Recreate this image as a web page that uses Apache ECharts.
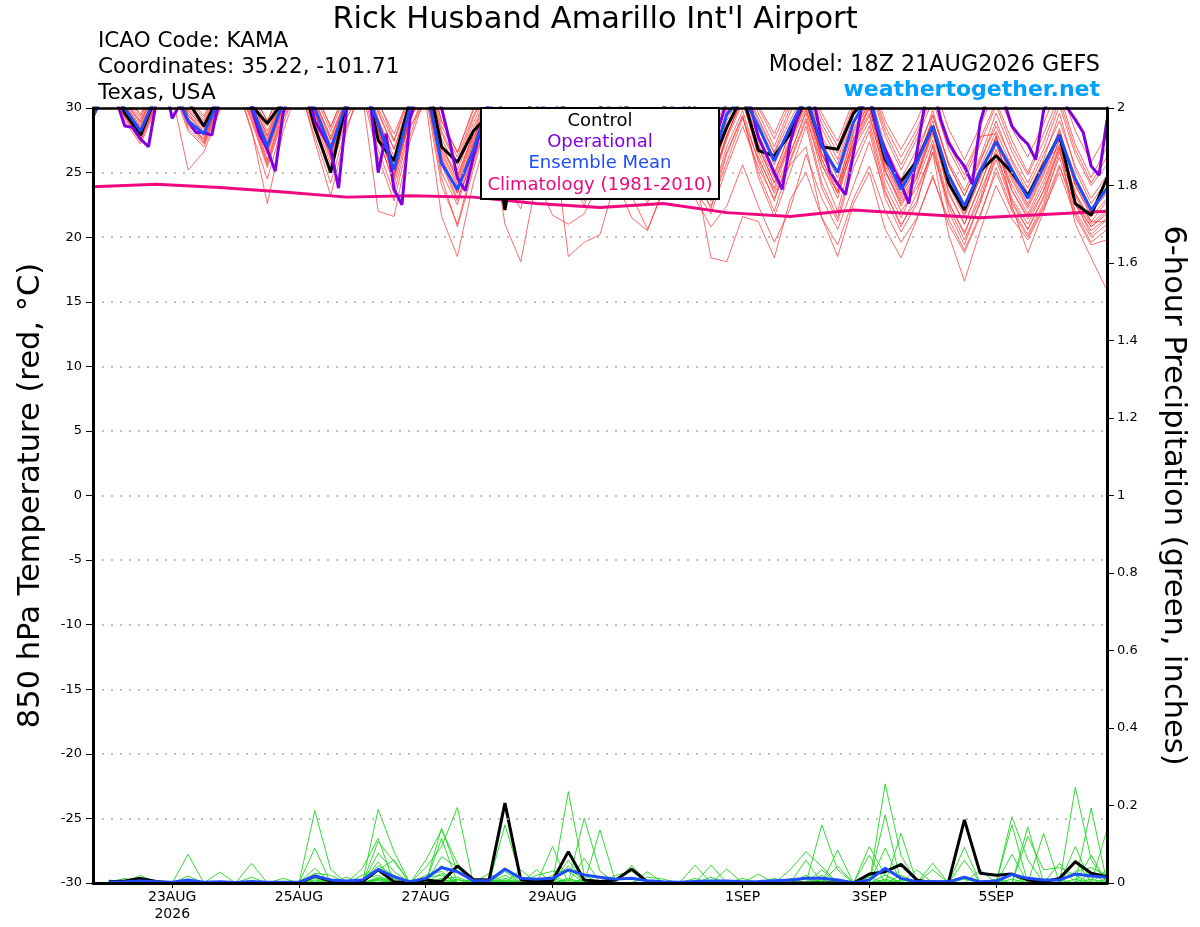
<!DOCTYPE html>
<html><head><meta charset="utf-8">
<script src="https://cdn.jsdelivr.net/npm/echarts@6/dist/echarts.min.js"></script>
<style>html,body{margin:0;padding:0;background:#fff}#c{width:1200px;height:927px}</style>
</head><body><div id="c"></div>
<script>
// ---- time axis: hours after 18Z 21AUG2026 ----
const tickHours = [30, 78, 126, 174, 246, 294, 342];
const tickLabels = ['23AUG\n2026', '25AUG', '27AUG', '29AUG', '1SEP', '3SEP', '5SEP'];

// ---- 850 hPa temperature (6-hourly, idx 0 = 18Z 21AUG) ----
const controlTemp = [31, 33,29.6,27.9,31, 33,30.5,28.6,31, 33,30.2,28.8,30.5, 33,28.5,25.0,30.5,
  33,27.5,25.9,30.5, 33,27.0,25.8,28.2, 29.5,22.1,29.0,31, 32,29,27,30, 32,29,26.5,30,
  32,29,25.5,28.5, 31,26.7,26.3,28.0, 30.8,27.0,26.8,29.6, 30.8,26.0,24.3,25.9,
  28.6,24.2,22.1,25.1, 26.3,25.0,23.2,25.6, 27.9,22.6,21.7,24.6];
const meanTemp = [29.3, 32,30.0,28.2,31, 32,29.0,28.0,30.8, 32,30.2,27.0,30.5, 32,30,26.8,30.4,
  32,28.8,25.2,30, 32,25.7,23.7,26.7, 30.5,27.5,26.5,29.5, 31,28,26.5,29, 31,28,26,29,
  31,28,25.5,29.5, 31,28.6,25.9,28.5, 31,27.0,25.0,28.9, 31,26.3,23.7,25.8,
  28.6,24.8,22.4,25.1, 27.4,25.2,23.0,25.5, 27.9,24.5,22.1,23.8];
// operational run is 3-hourly
const operationalTemp = [
  29.5,31.5,32,30.5,28.6,28.5,27.6,27.0,
  30.5,32,29.2,30.3,29.0,28.1,28.1,27.9,
  30.8,32,32.5,31.5,30.1,28.0,26.8,25.1,
  29.6,31.5,32.5,31.5,29.0,27.9,26.8,23.8,
  29.8,31.5,32.5,30.5,25.0,28.0,23.7,22.5,
  29.1,31.5,32.5,31.5,30.0,27.5,24.6,23.6,
  26.2,28.4,30.5,31,29,27.5,26.5,27.5,
  30,31.5,32,31,29,27.5,26.5,27.5,
  30,31.5,32,31,29,27.5,26.5,27.5,
  30,31.5,32,31.5,30,28,26.5,28.5,
  30.5,31.5,32,30.2,27.7,26.4,25.0,23.7,
  27.3,29.5,31.5,30.5,27.5,25.1,24.1,23.3,
  26.5,30.0,30.8,28.3,26.8,25.4,24.1,22.6,
  26.6,30.3,32,29.1,27.3,26.3,25.5,24.1,
  28.9,31,31.5,30.5,28.6,27.8,27.2,26.0,
  29.8,31,31.5,30.0,29.1,28.1,25.5,24.8,
  29.1];
// climatology, daily at 18Z
const climTemp = [23.9,24.1,23.85,23.5,23.1,23.2,23.1,22.6,22.3,22.6,21.9,21.6,22.1,21.8,21.5,21.75,22.0];

const memberTemp = [
 [30.2, 32.5,30.2,28.6,31.2, 32.8,29.8,28.4,31.0, 33.0,30.6,27.8,30.8, 33.2,30.4,27.5,30.6, 32.8,29.2,26.2,30.2, 32.5,27.0,24.8,28.0, 31.5,28.4,26.8,30.2, 32.0,28.8,27.0,29.6, 31.8,28.5,26.4,29.4, 31.6,28.6,26.0,29.8, 31.8,29.0,26.5,29.0, 31.5,27.8,25.6,29.4, 31.4,27.0,24.5,26.8, 29.5,25.6,23.2,26.0, 28.6,26.0,23.8,26.4, 29.0,25.5,23.0,24.8],
 [29.5, 32.0,29.6,27.8,30.6, 32.2,28.6,27.6,30.4, 32.4,29.8,26.4,30.0, 32.6,29.5,26.0,29.8, 32.0,27.5,24.4,29.2, 31.6,25.0,22.5,26.5, 30.2,26.0,24.5,28.6, 30.8,26.4,24.0,27.8, 30.5,26.0,23.5,27.6, 30.0,25.5,23.0,27.0, 29.8,25.8,22.8,26.5, 29.6,25.0,22.0,26.8, 29.0,24.0,21.5,24.2, 27.5,22.8,20.2,23.5, 26.5,23.0,21.0,23.6, 26.8,22.5,20.5,21.5],
 [30.8, 33.0,30.5,28.9,31.5, 33.2,30.2,28.8,31.4, 32.0,28.4,22.6,28.2, 31.8,28.2,25.2,29.6, 32.4,28.6,25.5,29.8, 32.8,28.2,25.8,29.2, 32.0,29.0,27.2,30.5, 32.4,29.5,27.8,30.2, 32.2,29.0,27.0,30.0, 32.0,29.2,26.8,30.2, 32.2,29.6,27.0,30.0, 32.0,28.8,26.5,30.0, 32.0,28.2,25.6,28.0, 31.0,27.2,24.8,27.6, 30.5,27.5,25.0,28.0, 31.0,27.2,24.6,27.0],
 [29.2, 31.8,29.2,27.4,30.2, 31.0,25.2,26.6,29.8, 32.2,29.6,26.0,29.8, 32.4,29.8,27.0,30.2, 32.6,29.0,25.8,30.0, 32.2,26.2,23.6,27.4, 31.0,27.6,25.6,29.2, 31.4,27.8,25.8,28.8, 31.2,27.2,25.0,28.6, 31.0,27.0,24.6,28.4, 31.2,28.0,25.0,28.0, 30.8,26.5,24.0,28.2, 30.4,25.5,23.0,25.0, 28.5,24.0,21.6,24.6, 27.8,24.6,22.4,25.0, 28.2,24.0,21.8,23.6],
 [30.5, 32.8,30.0,28.2,31.0, 32.6,29.4,28.0,30.8, 32.8,30.0,27.0,30.4, 32.8,29.8,26.6,30.0, 31.0,22.0,21.6,27.4, 31.0,24.0,21.0,25.6, 29.8,25.4,23.6,28.0, 30.2,25.6,23.2,27.2, 30.0,25.2,22.6,26.8, 29.6,24.8,22.2,26.4, 29.4,25.0,22.0,25.8, 29.0,24.2,21.5,26.0, 28.6,23.6,20.8,23.4, 27.0,22.0,19.4,22.8, 26.0,22.6,20.6,23.0, 26.2,22.0,20.0,21.0],
 [29.8, 32.2,29.8,28.0,30.8, 32.4,29.0,27.8,30.6, 32.6,29.6,26.6,30.2, 32.8,29.6,26.2,30.0, 32.2,27.8,24.0,28.6, 30.4,21.6,18.5,24.2, 28.4,24.0,22.2,27.0, 29.6,25.0,22.8,27.0, 30.2,26.0,23.8,27.8, 30.6,26.6,24.0,28.0, 30.6,27.0,24.2,27.4, 30.4,26.0,23.6,27.6, 30.0,25.2,22.4,24.6, 28.0,23.6,21.0,24.0, 27.2,24.0,21.8,24.4, 27.6,23.4,21.2,22.8],
 [30.0, 32.4,30.0,28.4,31.0, 32.6,29.6,28.2,30.8, 32.8,30.2,27.4,30.6, 33.0,30.0,26.8,30.2, 32.4,28.4,25.0,29.4, 31.8,25.8,23.0,26.0, 29.0,21.0,18.1,24.5, 29.5,24.8,22.4,26.6, 30.0,25.6,23.2,27.2, 30.4,26.4,24.0,27.8, 30.8,27.2,24.6,27.6, 30.6,26.4,24.0,28.0, 30.4,25.8,23.2,25.4, 28.6,24.4,22.0,24.8, 27.8,24.8,22.6,25.2, 28.4,24.2,22.0,23.4],
 [30.4, 32.6,30.4,28.8,31.4, 33.0,30.0,28.6,31.2, 33.2,30.8,28.2,31.0, 33.4,30.6,27.8,30.8, 33.0,29.6,26.8,30.4, 32.6,27.6,25.2,28.4, 31.4,28.0,26.0,29.0, 28.5,18.5,19.6,20.2, 24.5,21.5,20.5,23.8, 27.0,23.6,21.8,25.4, 28.6,25.4,23.0,26.0, 29.2,25.6,23.4,27.0, 29.4,25.0,22.8,24.8, 28.2,24.2,21.8,24.6, 27.6,24.4,22.2,24.8, 28.0,24.0,21.6,23.0],
 [29.6, 31.9,29.4,27.6,30.4, 32.0,28.4,27.2,30.2, 32.2,29.4,25.8,29.6, 32.4,29.2,25.6,29.6, 32.0,28.0,24.8,29.0, 31.8,26.6,24.2,27.6, 30.6,27.2,25.4,28.8, 31.0,27.4,25.4,28.4, 30.8,27.0,24.8,28.0, 28.0,25.0,18.4,18.1, 21.6,21.2,18.4,22.9, 25.0,21.5,19.4,23.0, 25.5,22.0,19.6,21.5, 24.6,21.4,19.0,21.8, 25.0,22.0,20.0,22.4, 25.6,21.8,19.6,20.6],
 [30.6, 33.2,30.8,29.2,31.8, 33.4,30.4,29.0,31.6, 33.6,31.0,28.6,31.4, 33.6,31.0,28.2,31.2, 33.4,30.0,27.4,30.8, 33.0,28.6,26.2,29.4, 31.8,28.6,26.8,30.0, 32.0,28.8,26.6,29.6, 31.6,28.0,25.6,28.8, 31.2,27.6,25.0,28.4, 30.6,26.2,23.4,25.6, 27.0,21.5,18.5,22.6, 25.0,20.6,18.4,21.4, 24.8,21.0,18.8,21.6, 25.4,22.2,20.2,22.6, 26.6,22.8,20.8,22.0],
 [29.4, 31.6,29.0,27.2,30.0, 31.6,28.2,27.0,30.0, 32.0,29.2,25.6,29.4, 32.2,29.0,25.0,29.2, 31.6,26.8,23.4,28.4, 31.2,25.6,22.8,26.8, 30.4,26.6,24.6,28.4, 30.6,26.8,24.6,28.0, 30.6,26.6,24.2,27.6, 30.4,26.4,23.8,27.6, 30.4,26.6,23.8,27.2, 30.0,25.6,23.0,27.2, 29.6,24.6,22.0,23.8, 26.5,20.2,16.6,20.5, 24.0,21.4,19.8,22.2, 25.0,21.6,19.4,19.8],
 [30.9, 33.4,31.0,29.4,32.0, 33.6,30.6,29.2,31.8, 33.8,31.2,29.0,31.6, 33.8,31.2,28.6,31.4, 33.6,30.4,28.0,31.0, 33.2,29.0,26.6,29.8, 32.2,29.2,27.6,30.8, 32.6,29.8,28.0,30.4, 32.4,29.4,27.4,30.2, 32.2,29.6,27.2,30.4, 32.4,30.0,27.6,30.4, 32.2,29.2,27.0,30.2, 32.2,28.6,26.2,28.4, 31.2,27.6,25.2,27.8, 28.0,22.4,18.8,22.0, 25.4,22.6,20.8,21.8],
 [30.1, 32.3,29.9,28.1,30.9, 32.5,29.2,27.9,30.7, 32.7,30.0,27.2,30.4, 32.9,29.9,26.9,30.3, 32.6,28.6,25.4,29.6, 32.0,26.4,24.0,27.2, 30.8,27.4,25.8,29.4, 31.2,27.8,25.8,28.8, 31.0,27.4,25.2,28.6, 30.8,27.2,24.8,28.6, 31.0,27.6,24.8,28.2, 30.8,27.0,24.6,28.4, 30.6,26.4,23.8,26.0, 29.0,25.0,22.6,25.4, 28.2,25.4,23.2,25.8, 27.0,21.0,18.4,15.9],
 [31.2, 33.8,31.2,29.5,32.2, 33.8,30.8,29.4,32.0, 34.0,31.4,29.0,31.8, 34.0,31.4,28.5,31.5, 33.8,30.6,27.5,31.2, 33.6,29.0,26.5,30.0, 32.6,29.6,28.0,31.0, 33.0,30.0,28.4,30.8, 32.8,29.8,27.8,30.6, 32.6,29.8,27.6,30.8, 32.8,30.2,28.0,30.8, 32.6,29.6,27.4,30.6, 32.6,29.0,26.8,29.0, 32.0,28.4,26.0,28.6, 31.6,28.4,26.2,28.8, 31.8,28.2,25.8,28.0],
 [29.9, 32.1,29.7,27.9,30.7, 32.3,29.1,27.4,30.5, 32.0,28.2,24.5,28.8, 32.0,27.4,23.2,28.2, 32.2,28.2,24.6,29.0, 32.0,26.0,23.4,27.0, 30.6,27.0,25.0,28.6, 31.0,27.2,24.8,28.2, 30.8,26.8,24.4,27.8, 30.6,26.6,24.0,27.8, 30.8,27.0,24.2,27.4, 30.4,26.0,23.4,27.6, 30.2,25.2,22.6,24.6, 28.4,23.4,21.0,24.0, 27.4,23.6,21.6,24.0, 27.6,23.2,21.0,22.2],
 [30.3, 32.7,30.3,28.5,31.1, 32.9,29.8,28.5,31.0, 33.1,30.4,27.6,30.7, 33.2,30.2,27.2,30.5, 32.8,29.0,25.8,29.8, 32.2,27.2,24.4,27.8, 29.6,24.8,23.4,24.4, 21.7,21.0,21.8,24.4, 26.8,23.2,20.6,23.6, 27.6,24.4,22.4,25.8, 29.2,26.0,23.6,26.4, 29.8,26.4,24.0,27.2, 30.0,25.8,23.4,25.4, 29.4,25.8,23.6,26.2, 29.6,26.6,24.2,26.8, 30.2,26.4,24.0,25.6],
 [29.7, 32.0,29.5,27.7,30.5, 32.1,28.8,27.6,30.3, 32.3,29.8,26.8,30.0, 32.5,29.6,26.4,29.9, 32.2,28.2,24.8,29.2, 31.8,26.8,24.6,28.0, 30.8,27.6,26.0,29.0, 31.0,27.6,25.6,28.6, 30.4,26.2,23.6,26.6, 28.4,23.0,20.8,22.4, 25.6,22.4,19.6,22.2, 26.4,23.0,20.6,24.0, 27.4,23.4,21.0,22.8, 26.6,22.6,20.4,23.0, 26.8,23.6,21.4,23.6, 27.2,23.4,21.2,21.2],
 [30.0, 32.4,30.1,28.3,31.1, 32.7,29.5,28.1,30.9, 32.9,30.2,27.2,30.5, 33.0,30.0,26.6,30.2, 32.5,28.4,25.2,29.6, 32.2,26.0,23.4,27.0, 31.0,27.8,26.0,29.6, 31.6,28.0,26.0,29.0, 31.4,27.8,25.6,28.8, 31.2,27.8,25.2,29.0, 31.4,28.4,25.6,28.6, 31.2,27.4,25.0,28.8, 31.0,26.6,24.0,26.2, 29.8,25.6,23.2,25.8, 29.0,25.8,23.4,26.0, 29.6,25.2,22.6,24.4],
 [30.7, 33.0,30.6,29.0,31.6, 33.1,30.3,28.8,31.3, 33.3,30.6,27.9,31.0, 33.4,30.6,27.6,30.9, 33.2,29.8,26.8,30.6, 32.8,28.0,25.6,28.8, 31.6,28.2,26.6,30.2, 32.0,28.8,26.8,29.8, 31.6,28.2,26.0,29.2, 31.6,28.4,25.8,29.6, 32.0,29.2,26.6,29.6, 31.8,28.4,26.0,29.8, 31.8,27.8,25.2,27.6, 30.6,26.8,24.4,27.2, 30.2,27.0,24.8,27.4, 30.6,26.8,24.2,26.2],
 [29.3, 31.7,29.3,27.5,30.3, 31.8,28.8,27.3,30.1, 32.1,29.0,25.4,29.2, 31.6,27.8,24.2,28.6, 31.2,26.2,22.8,27.8, 31.4,24.6,20.8,25.2, 29.6,26.0,24.0,27.8, 30.2,26.2,23.8,27.4, 30.0,25.8,23.0,26.8, 29.8,25.6,22.8,26.6, 29.4,24.6,21.6,25.0, 28.6,23.8,21.2,25.4, 28.2,23.0,20.4,22.6, 27.2,22.4,19.8,22.6, 26.4,22.8,20.6,23.2, 27.0,22.6,20.2,21.4]
];

// ---- 6-hour precipitation (inches), idx 1..64 (first value = 00Z 22AUG) ----
const controlPrecip = [0.003,0.005,0.012,0.004,0,0,0,0, 0,0,0,0,0,0.018,0.005,0.003,
  0.003,0.034,0.003,0,0.008,0.003,0.044,0.009, 0.008,0.206,0.008,0.005,0.006,0.081,0.008,0.004,
  0.008,0.036,0.003,0,0,0,0,0, 0,0,0,0,0,0,0,0,
  0.023,0.029,0.048,0.008,0,0.003,0.163,0.025, 0.02,0.023,0.008,0.003,0.012,0.055,0.025,0.016];
const meanPrecip = [0.002,0.003,0.005,0.003,0.002,0.008,0.002,0.003, 0.001,0.004,0.002,0.002,0.002,0.018,0.008,0.005,
  0.008,0.035,0.016,0.003,0.012,0.04,0.029,0.006, 0.006,0.036,0.012,0.01,0.012,0.034,0.021,0.015,
  0.01,0.012,0.006,0.003,0.002,0.004,0.005,0.005, 0.003,0.004,0.006,0.008,0.012,0.012,0.008,0.001,
  0.008,0.038,0.012,0.003,0.004,0.003,0.015,0.003, 0.005,0.022,0.012,0.008,0.008,0.023,0.018,0.015];
// members: {forecast step index: inches}, steps not listed are dry
const memberPrecip = [
 {1:0.008,3:0.02,14:0.187,15:0.035,18:0.077,19:0.03,22:0.141,23:0.03,26:0.02,30:0.045,46:0.15,47:0.034,50:0.09,58:0.171,59:0.06,62:0.06},
 {2:0.012,6:0.074,14:0.09,18:0.19,19:0.081,22:0.046,26:0.15,27:0.015,29:0.02,31:0.064,45:0.059,49:0.094,50:0.02,55:0.092,58:0.074,63:0.193},
 {3:0.012,8:0.028,14:0.038,17:0.038,18:0.115,21:0.059,22:0.137,23:0.051,28:0.034,30:0.236,31:0.02,44:0.034,45:0.081,46:0.042,50:0.256,51:0.07,62:0.247,63:0.06},
 {1:0.005,6:0.018,10:0.051,14:0.018,18:0.107,19:0.055,22:0.115,25:0.025,29:0.094,32:0.137,38:0.046,47:0.085,50:0.176,53:0.051,58:0.15,64:0.137},
 {10:0.015,14:0.025,15:0.02,18:0.055,21:0.04,22:0.094,23:0.195,26:0.038,30:0.059,34:0.046,39:0.046,46:0.034,49:0.072,51:0.128,59:0.145,62:0.094},
 {3:0.008,12:0.012,17:0.02,18:0.034,19:0.06,22:0.068,23:0.04,27:0.034,31:0.167,32:0.03,40:0.036,44:0.012,47:0.044,55:0.059,60:0.128,63:0.072},
 {1:0.006,16:0.015,18:0.045,19:0.02,21:0.02,22:0.03,26:0.03,28:0.02,29:0.03,30:0.03,35:0.029,42:0.023,45:0.02,52:0.034,56:0.034,61:0.051,64:0.034},
 {2:0.006,14:0.012,17:0.01,18:0.02,21:0.015,22:0.02,25:0.01,33:0.02,34:0.03,39:0.015,43:0.012,50:0.02,53:0.034,59:0.12,60:0.034,61:0.04,62:0.02},
 {4:0.005,15:0.01,18:0.015,22:0.025,24:0.01,26:0.012,30:0.012,35:0.015,36:0.01,38:0.012,41:0.012,46:0.02,51:0.02,57:0.01,62:0.03,63:0.04,64:0.02},
 {1:0.004,14:0.008,18:0.01,19:0.01,22:0.012,23:0.015,26:0.008,29:0.012,31:0.01,45:0.012,49:0.015,58:0.02,63:0.025},
 {6:0.005,18:0.008,22:0.01,30:0.008,50:0.01,62:0.01},
 {14:0.005,19:0.005,23:0.01,27:0.005,46:0.008,58:0.01},
 {10:0.004,18:0.012,26:0.006,47:0.01,59:0.015,64:0.01},
 {18:0.006,22:0.008,31:0.006,51:0.008},
 {15:0.004,23:0.008,29:0.006,55:0.01,61:0.008},
 {}, {21:0.005}, {19:0.004,50:0.006}, {}, {26:0.004,63:0.01}
];

// ---- build ----
const FONT = 'DejaVu Sans';
const RED = 'rgba(255,45,45,0.7)', GREEN = 'rgba(30,215,30,0.9)';
const PURPLE = '#8000e0', BLUE = '#1f4cff', MAGENTA = '#f0077f';
const STEP = 6, NSTEP = 64;
const t6 = arr => arr.map((v, i) => [i * STEP, v]);
const p6 = arr => arr.map((v, i) => [(i + 1) * STEP, v]);
const baseLine = (name, data, color, width, yIdx, z) => ({
  name, type: 'line', data, yAxisIndex: yIdx, xAxisIndex: 0, symbol: 'none', silent: true, z,
  lineStyle: {color, width}, emphasis: {disabled: true}
});
const series = [];
memberTemp.forEach((m, k) => series.push(baseLine('m' + k, t6(m), RED, 1, 0, 2)));
memberPrecip.forEach((m, k) => {
  const vals = [];
  for (let i = 1; i <= NSTEP; i++) vals.push(m[i] !== undefined ? m[i] : 0);
  series.push(baseLine('p' + k, p6(vals), GREEN, 1, 1, 2));
});
series.push(baseLine('Climatology', climTemp.map((v, d) => [d * 24, v]), MAGENTA, 3, 0, 3));
series.push(baseLine('Control', t6(controlTemp), '#000', 3, 0, 4));
series.push(baseLine('ControlP', p6(controlPrecip), '#000', 3, 1, 4));
series.push(baseLine('Operational', operationalTemp.map((v, j) => [j * 3, v]), PURPLE, 3, 0, 5));
series.push(baseLine('Mean', t6(meanTemp), BLUE, 3, 0, 6));
series.push(baseLine('MeanP', p6(meanPrecip), BLUE, 3, 1, 6));

const txt = (text, x, y, size, color, align, weight) => ({
  type: 'text', x, y, z: 100, silent: true,
  style: {text, fill: color, font: (weight || 'normal') + ' ' + size + 'px "' + FONT + '"', textAlign: align, textVerticalAlign: 'middle'}
});

const option = {
  animation: false,
  backgroundColor: '#fff',
  textStyle: {fontFamily: FONT},
  grid: {left: 93, right: 93, top: 108, bottom: 44, show: false},
  xAxis: [{
    type: 'value', min: 0, max: 384, position: 'bottom', z: 10,
    axisLine: {show: true, onZero: false, lineStyle: {color: '#000', width: 3}},
    axisTick: {show: true, customValues: tickHours, length: 5, lineStyle: {color: '#000', width: 1}},
    axisLabel: {customValues: tickHours, color: '#000', fontSize: 14, lineHeight: 17, margin: 6, fontFamily: FONT,
      formatter: v => { const i = tickHours.indexOf(Math.round(v)); return i >= 0 ? tickLabels[i] : ''; }},
    splitLine: {show: false}
  }, {
    type: 'value', min: 0, max: 384, position: 'top', z: 10,
    axisLine: {show: true, onZero: false, lineStyle: {color: '#000', width: 2.5}},
    axisTick: {show: false}, axisLabel: {show: false}, splitLine: {show: false}
  }],
  yAxis: [
    {type: 'value', min: -30, max: 30, interval: 5, position: 'left', z: 10,
     name: '850 hPa Temperature (red, °C)', nameLocation: 'middle', nameGap: 46, nameRotate: 90,
     nameTextStyle: {fontSize: 30.5, color: '#000', fontFamily: FONT},
     axisLine: {show: true, onZero: false, lineStyle: {color: '#000', width: 3}},
     axisTick: {show: true, length: 7, lineStyle: {color: '#000', width: 1}},
     axisLabel: {color: '#000', fontSize: 13, margin: 11, fontFamily: FONT},
     splitLine: {show: true, showMinLine: false, showMaxLine: false, lineStyle: {color: '#aaa', type: [2, 7], width: 1.5}}},
    {type: 'value', min: 0, max: 2, interval: 0.2, position: 'right', z: 10,
     name: '6-hour Precipitation (green, inches)', nameLocation: 'middle', nameGap: 50, nameRotate: -90,
     nameTextStyle: {fontSize: 30.5, color: '#000', fontFamily: FONT},
     axisLine: {show: true, onZero: false, lineStyle: {color: '#000', width: 3}},
     axisTick: {show: true, length: 7, lineStyle: {color: '#000', width: 1}},
     axisLabel: {color: '#000', fontSize: 13, margin: 10, fontFamily: FONT},
     splitLine: {show: false}}
  ],
  graphic: {elements: [
    txt("Rick Husband Amarillo Int'l Airport", 595, 20, 30.5, '#000', 'center'),
    txt('ICAO Code: KAMA', 98, 41, 21.5, '#000', 'left'),
    txt('Coordinates: 35.22, -101.71', 98, 67, 21.5, '#000', 'left'),
    txt('Texas, USA', 98, 93.5, 21.5, '#000', 'left'),
    txt('Model: 18Z 21AUG2026 GEFS', 1100, 65, 22.3, '#000', 'right'),
    txt('weathertogether.net', 1100, 90, 22, '#00a0ff', 'right', 'bold'),
    {type: 'rect', z: 99, silent: true, shape: {x: 481, y: 108, width: 238, height: 91},
     style: {fill: '#fff', stroke: '#000', lineWidth: 2}},
    txt('Control', 600, 121, 18, '#000', 'center'),
    txt('Operational', 600, 142, 18, PURPLE, 'center'),
    txt('Ensemble Mean', 600, 163.5, 18, BLUE, 'center'),
    txt('Climatology (1981-2010)', 600, 185, 18, MAGENTA, 'center')
  ]},
  series
};
const chart = echarts.init(document.getElementById('c'), null, {renderer: 'canvas'});
chart.setOption(option);
</script></body></html>
